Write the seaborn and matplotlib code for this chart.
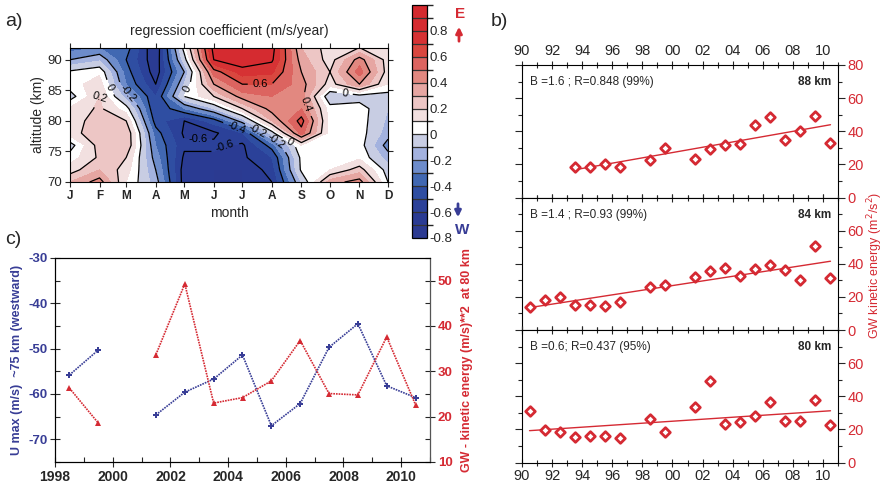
import numpy as np
import pandas as pd
import matplotlib
matplotlib.use("Agg")
import matplotlib.pyplot as plt
from matplotlib.colors import ListedColormap, BoundaryNorm
from matplotlib.ticker import MultipleLocator, FixedLocator, FuncFormatter
import seaborn as sns

sns.set_theme(style="ticks")
plt.rcParams["font.family"] = ["Liberation Sans", "DejaVu Sans"]
plt.rcParams["axes.unicode_minus"] = False
plt.rcParams["axes.linewidth"] = 0.8
plt.rcParams["axes.edgecolor"] = "black"

RED = "#d52a33"
BLUE = "#383d96"

# ---------------- a) regression coefficient of the zonal wind ----------------
month_labels = ["J", "F", "M", "A", "M", "J", "J", "A", "S", "O", "N", "D"]
month_days = [1, 32, 60, 91, 121, 152, 182, 213, 244, 274, 305, 335]
altitudes = [70, 72, 74, 76, 78, 80, 82, 84, 86, 88, 90, 92]

coef_70km = [0.30, 0.45, 0.10, -0.15, -0.65, -0.70, -0.70, -0.60, -0.10, 0.35, 0.45, 0.00]
coef_72km = [0.15, 0.30, 0.15, -0.20, -0.65, -0.70, -0.70, -0.55, 0.02, 0.10, 0.25, -0.05]
coef_74km = [0.05, 0.22, 0.20, -0.25, -0.62, -0.62, -0.62, -0.50, 0.03, 0.05, 0.08, -0.15]
coef_76km = [-0.05, 0.25, 0.30, -0.30, -0.58, -0.58, -0.62, -0.35, 0.10, 0.05, 0.05, -0.25]
coef_78km = [0.15, 0.28, 0.30, -0.35, -0.62, -0.62, -0.50, -0.05, 0.55, 0.05, 0.05, -0.15]
coef_80km = [0.15, 0.25, 0.20, -0.45, -0.60, -0.45, -0.15, 0.30, 0.65, 0.05, 0.05, -0.12]
coef_82km = [0.12, 0.22, 0.05, -0.50, -0.30, -0.10, 0.20, 0.45, 0.50, 0.05, 0.05, -0.10]
coef_84km = [-0.05, 0.20, -0.15, -0.50, 0.00, 0.20, 0.45, 0.50, 0.45, -0.10, -0.05, -0.05]
coef_86km = [0.06, 0.15, -0.30, -0.60, -0.10, 0.40, 0.60, 0.60, 0.45, 0.15, 0.40, 0.10]
coef_88km = [0.02, 0.08, -0.35, -0.66, -0.20, 0.55, 0.75, 0.72, 0.40, 0.20, 0.55, 0.15]
coef_90km = [-0.20, -0.12, -0.40, -0.68, -0.05, 0.80, 0.88, 0.82, 0.35, 0.15, 0.45, 0.15]
coef_92km = [-0.35, -0.30, -0.35, -0.70, 0.05, 0.85, 0.90, 0.85, 0.30, 0.15, 0.20, 0.10]

# 18 shading classes from -0.8 to 1.0 in 0.1 steps (bottom to top)
shade_colors = ["#2b3a91", "#2a3b93", "#2b4199", "#2f4ea2", "#4168b2", "#6d8ccb",
                "#a3b2df", "#c8cde3", "#ffffff", "#f2e0e0", "#edc6c5", "#e6a6a2",
                "#e28880", "#dc6460", "#d9473f", "#d63234", "#d52b30", "#d42a2f"]
shade_levels = np.round(np.linspace(-0.8, 1.0, 19), 2)
line_levels = [-0.6, -0.4, -0.2, 0.0, 0.2, 0.4, 0.6, 0.8]

# ---------------- b) GW kinetic energy per year ----------------
years_88 = [1993.5, 1994.5, 1995.5, 1996.5, 1998.5, 1999.5, 2001.5, 2002.5,
            2003.5, 2004.5, 2005.5, 2006.5, 2007.5, 2008.5, 2009.5, 2010.5]
gw_88 = [18.7, 18.7, 20.3, 18.7, 22.7, 29.9, 23.1, 29.1,
         31.8, 32.2, 43.8, 48.8, 35.0, 40.0, 49.2, 33.0]
years_84_80 = [1990.5, 1991.5, 1992.5, 1993.5, 1994.5, 1995.5, 1996.5, 1998.5,
               1999.5, 2001.5, 2002.5, 2003.5, 2004.5, 2005.5, 2006.5, 2007.5,
               2008.5, 2009.5, 2010.5]
gw_84 = [13.6, 18.1, 20.0, 14.8, 14.8, 14.6, 16.7, 26.0, 27.0, 31.8,
         35.5, 37.5, 32.4, 37.1, 39.0, 36.3, 29.9, 50.5, 31.5]
gw_80 = [31.3, 19.8, 18.4, 15.4, 16.0, 15.8, 14.5, 26.3, 18.6, 33.7,
         49.3, 23.0, 24.2, 27.9, 36.8, 25.1, 24.8, 37.6, 22.6]
trend_slopes = [1.6, 1.4, 0.6]
trend_texts = ["B =1.6 ; R=0.848 (99%)", "B =1.4 ; R=0.93 (99%)", "B =0.6; R=0.437 (95%)"]
level_names = ["88 km", "84 km", "80 km"]

# ---------------- c) westward wind maximum vs. GW energy ----------------
years_c = [1998.5, 1999.5, 2001.5, 2002.5, 2003.5, 2004.5, 2005.5, 2006.5,
           2007.5, 2008.5, 2009.5, 2010.5]
u_max_75km = [-55.8, -50.3, -64.6, -59.6, -56.7, -51.4, -67.0, -62.1,
              -49.7, -44.5, -58.2, -60.8]
gw_80_c = [26.3, 18.6, 33.7, 49.3, 23.0, 24.2, 27.9, 36.8, 25.1, 24.8, 37.6, 22.6]

W, H = 887, 491
fig = plt.figure(figsize=(W / 100, H / 100), dpi=100)


def box(x0, y0, x1, y1):
    """Axes rectangle from pixel edges (top-left origin)."""
    return [x0 / W, 1 - y1 / H, (x1 - x0) / W, (y1 - y0) / H]


# ===== panel a =====
axa = fig.add_axes(box(70, 47.5, 388, 182))
field = np.array([coef_70km, coef_72km, coef_74km, coef_76km, coef_78km, coef_80km,
                  coef_82km, coef_84km, coef_86km, coef_88km, coef_90km, coef_92km])
X, Y = np.meshgrid(month_days, altitudes)
cmap = ListedColormap(shade_colors)
norm = BoundaryNorm(shade_levels, cmap.N)
cf = axa.contourf(X, Y, field, levels=shade_levels, cmap=cmap, norm=norm)
cs = axa.contour(X, Y, field, levels=line_levels, colors="black",
                 linewidths=0.9, linestyles="solid")
label_spots = [(42, 85.4), (32, 83.9), (59, 84.0), (124, 85.2), (201, 85.5),
               (243, 82.4), (290, 85.0), (135, 78.0), (174, 78.0), (198, 78.3),
               (219, 77.0), (232, 76.6), (166, 75.0)]
axa.clabel(cs, manual=label_spots, inline=True, fontsize=8,
           fmt=lambda v: "0" if abs(v) < 1e-9 else f"{v:g}")
axa.set_xlim(1, 335)
axa.set_ylim(70, 92)
axa.xaxis.set_major_locator(FixedLocator(month_days))
axa.set_xticklabels(month_labels, fontsize=8.5, fontweight="bold")
axa.set_yticks([70, 75, 80, 85, 90])
axa.tick_params(axis="y", labelsize=9.5)
axa.tick_params(which="both", direction="out", length=3.5, width=0.8,
                top=True, right=True, labeltop=False, labelright=False, pad=2)
axa.set_xlabel("month", fontsize=10, labelpad=3)
axa.set_ylabel("altitude (km)", fontsize=10, labelpad=2)
axa.set_title("regression coefficient (m/s/year)", fontsize=10, pad=9)

cax = fig.add_axes(box(412, 5, 427, 238))
cb = fig.colorbar(cf, cax=cax, ticks=np.round(np.arange(-0.8, 0.81, 0.2), 1),
                  drawedges=True)
cb.outline.set_linewidth(0.9)
cb.dividers.set_color("#333333")
cb.dividers.set_linewidth(0.9)
cax.set_yticklabels(["0" if abs(t) < 1e-9 else f"{t:g}" for t in np.round(np.arange(-0.8, 0.81, 0.2), 1)])
cax.tick_params(length=0, labelsize=9.5, pad=2)

fig.text(460 / W, 1 - 14 / H, "E", color=RED, fontsize=11, fontweight="bold",
         ha="center", va="center")
cax.annotate("", xy=(459, H - 24), xytext=(459, H - 44), xycoords="figure pixels",
             textcoords="figure pixels", annotation_clip=False,
             arrowprops=dict(arrowstyle="-|>", color=RED, lw=2, mutation_scale=9))
cax.annotate("", xy=(458, H - 220), xytext=(458, H - 201), xycoords="figure pixels",
             textcoords="figure pixels", annotation_clip=False,
             arrowprops=dict(arrowstyle="-|>", color=BLUE, lw=2, mutation_scale=9))
fig.text(462 / W, 1 - 230 / H, "W", color=BLUE, fontsize=11, fontweight="bold",
         ha="center", va="center")

# ===== panel b =====
b_edges = [65, 197.5, 330, 462.5]
b_series = [(years_88, gw_88), (years_84_80, gw_84), (years_84_80, gw_80)]
year_fmt = FuncFormatter(lambda v, p: f"{int(round(v)) % 100:02d}")
for i, (yrs, vals) in enumerate(b_series):
    ax = fig.add_axes(box(522, b_edges[i], 838, b_edges[i + 1]))
    df = pd.DataFrame({"year": yrs, "gw": vals})
    # trend line through the mean point with the stated slope
    xm, ym = df["year"].mean(), df["gw"].mean()
    fit = pd.DataFrame({"year": [df["year"].min(), df["year"].max()]})
    fit["gw"] = ym + trend_slopes[i] * (fit["year"] - xm)
    sns.lineplot(data=fit, x="year", y="gw", color=RED, lw=1.0, ax=ax)
    sns.scatterplot(data=df, x="year", y="gw", marker="D", s=24,
                    facecolor="white", edgecolor=RED, linewidth=2.0, ax=ax, zorder=3)
    ax.set_xlim(1990, 2011)
    ax.set_ylim(0, 80)
    ax.xaxis.set_major_locator(MultipleLocator(2))
    ax.xaxis.set_minor_locator(MultipleLocator(1))
    ax.xaxis.set_major_formatter(year_fmt)
    if i == 0:
        ax.set_yticks([0, 20, 40, 60, 80])
    else:
        ax.set_yticks([0, 20, 40, 60])
    ax.yaxis.set_minor_locator(FixedLocator([10, 30, 50, 70]))
    ax.tick_params(axis="y", which="both", direction="out", left=True, right=True,
                   labelleft=False, labelright=True, labelcolor=RED, labelsize=10.5,
                   pad=2)
    ax.tick_params(axis="y", which="major", length=5, width=0.8)
    ax.tick_params(axis="y", which="minor", length=3, width=0.8)
    ax.tick_params(axis="x", which="both", direction="inout", top=True, bottom=True,
                   labeltop=(i == 0), labelbottom=(i == 2), labelsize=10.5, pad=2)
    ax.tick_params(axis="x", which="major", length=6, width=0.8)
    ax.tick_params(axis="x", which="minor", length=4, width=0.8)
    ax.set_xlabel("")
    ax.set_ylabel("")
    ax.text(0.025, 0.87, trend_texts[i], transform=ax.transAxes, fontsize=8.5,
            ha="left", va="center")
    ax.text(0.978, 0.87, level_names[i], transform=ax.transAxes, fontsize=8.5,
            fontweight="bold", ha="right", va="center")

fig.text(875 / W, 1 - 265 / H, "GW kinetic energy (m$^2$/s$^2$)", color=RED,
         fontsize=9, rotation=90, ha="center", va="center")

# ===== panel c =====
axc = fig.add_axes(box(55, 258, 430, 462))
dfc = pd.DataFrame({"year": years_c, "u": u_max_75km, "gw": gw_80_c})
dfc["segment"] = (dfc["year"].diff() > 1.5).cumsum()
sns.lineplot(data=dfc, x="year", y="u", units="segment", estimator=None,
             color=BLUE, marker="P", markersize=5, markeredgewidth=0,
             lw=1.2, linestyle=(0, (1, 0.6)), ax=axc)
axc.set_xlim(1998, 2011)
axc.set_ylim(-75, -30)
axc.xaxis.set_major_locator(MultipleLocator(2))
axc.xaxis.set_minor_locator(MultipleLocator(1))
axc.yaxis.set_major_locator(MultipleLocator(10))
axc.yaxis.set_minor_locator(MultipleLocator(5))
axc.tick_params(axis="both", which="major", direction="inout", length=7, width=0.8)
axc.tick_params(axis="both", which="minor", direction="in", length=3.5, width=0.8)
axc.tick_params(axis="y", labelcolor=BLUE, labelsize=9.5, pad=2)
axc.tick_params(axis="x", labelsize=10, pad=2)
for lab in axc.get_xticklabels() + axc.get_yticklabels():
    lab.set_fontweight("bold")
axc.set_xlabel("")
axc.set_ylabel("U max (m/s)  ~75 km (westward)", color=BLUE, fontsize=9,
               fontweight="bold", labelpad=4)

axc2 = axc.twinx()
sns.lineplot(data=dfc, x="year", y="gw", units="segment", estimator=None,
             color=RED, marker="^", markersize=4.5, markeredgewidth=0,
             lw=1.2, linestyle=(0, (1, 0.6)), ax=axc2)
axc2.set_ylim(10, 55)
axc2.yaxis.set_major_locator(MultipleLocator(10))
axc2.yaxis.set_minor_locator(MultipleLocator(5))
axc2.tick_params(axis="y", which="major", direction="inout", length=7, width=0.8)
axc2.tick_params(axis="y", which="minor", direction="in", length=3.5, width=0.8)
axc2.tick_params(axis="y", labelcolor=RED, labelsize=9.5, pad=2)
for lab in axc2.get_yticklabels():
    lab.set_fontweight("bold")
axc2.spines["right"].set_color("#555555")
axc2.set_ylabel("GW - kinetic energy (m/s)**2  at 80 km", color=RED, fontsize=9,
                fontweight="bold", labelpad=6)
axc.set_xlim(1998, 2011)

# panel letters
fig.text(5 / W, 1 - 22 / H, "a)", fontsize=14, ha="left", va="center")
fig.text(491 / W, 1 - 22 / H, "b)", fontsize=14, ha="left", va="center")
fig.text(5 / W, 1 - 240 / H, "c)", fontsize=14, ha="left", va="center")

fig.savefig("out.png", dpi=100)
